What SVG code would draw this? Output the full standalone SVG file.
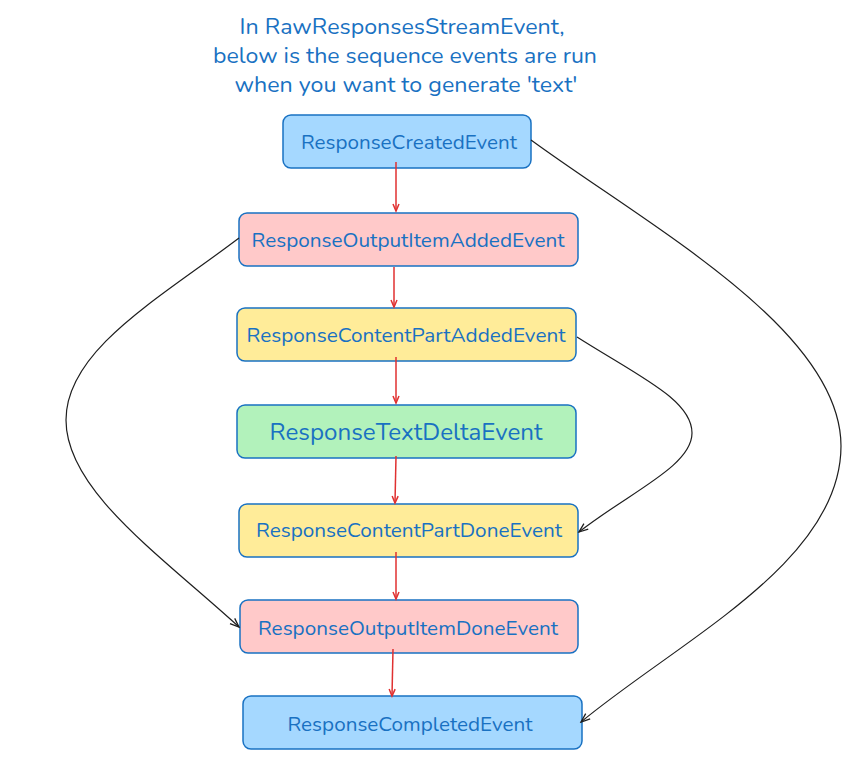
<svg xmlns="http://www.w3.org/2000/svg" width="858" height="763" viewBox="0 0 858 763">
<style>
.t{font-family:"Nunito","Open Sans","Noto Sans",sans-serif;fill:#1971c2;text-anchor:middle}
.b{stroke:#1971c2;stroke-width:1.5}
.red{stroke:#e03131;stroke-width:1.5;fill:none}
.blk{stroke:#1e1e1e;stroke-width:1.2;fill:none}
</style>
<defs>
<marker id="ar" markerWidth="10" markerHeight="10" refX="8" refY="5" orient="auto" markerUnits="userSpaceOnUse">
<path d="M1,2 L8,5 L1,8" fill="none" stroke="#e03131" stroke-width="1.5"/>
</marker>
<marker id="ab" markerWidth="12" markerHeight="12" refX="10" refY="6" orient="auto" markerUnits="userSpaceOnUse">
<path d="M1,2.5 L10,6 L1,9.5" fill="none" stroke="#1e1e1e" stroke-width="1.3"/>
</marker>
</defs>
<rect width="858" height="763" fill="#ffffff"/>
<g id="title">
<text class="t" x="402" y="34" font-size="22" textLength="325" lengthAdjust="spacingAndGlyphs">In RawResponsesStreamEvent,</text>
<text class="t" x="405" y="63" font-size="22" textLength="384" lengthAdjust="spacingAndGlyphs">below is the sequence events are run</text>
<text class="t" x="406" y="92" font-size="22" textLength="343" lengthAdjust="spacingAndGlyphs">when you want to generate 'text'</text>
</g>
<g id="n1"><rect class="b" x="283" y="115" width="248" height="53" rx="8" fill="#a5d8ff"/>
<text class="t" x="409" y="149" font-size="19" textLength="216" lengthAdjust="spacingAndGlyphs">ResponseCreatedEvent</text></g>
<g id="n2"><rect class="b" x="239" y="213" width="339" height="53" rx="8" fill="#ffc9c9"/>
<text class="t" x="408" y="247" font-size="19" textLength="313" lengthAdjust="spacingAndGlyphs">ResponseOutputItemAddedEvent</text></g>
<g id="n3"><rect class="b" x="237" y="308" width="339" height="53" rx="8" fill="#ffec99"/>
<text class="t" x="406" y="342" font-size="19" textLength="319" lengthAdjust="spacingAndGlyphs">ResponseContentPartAddedEvent</text></g>
<g id="n4"><rect class="b" x="237" y="405" width="339" height="53" rx="8" fill="#b2f2bb"/>
<text class="t" x="406" y="440" font-size="23" textLength="273" lengthAdjust="spacingAndGlyphs">ResponseTextDeltaEvent</text></g>
<g id="n5"><rect class="b" x="239" y="504" width="339" height="53" rx="8" fill="#ffec99"/>
<text class="t" x="409" y="537" font-size="19" textLength="306" lengthAdjust="spacingAndGlyphs">ResponseContentPartDoneEvent</text></g>
<g id="n6"><rect class="b" x="240" y="600" width="338" height="53" rx="8" fill="#ffc9c9"/>
<text class="t" x="408" y="635" font-size="19" textLength="300" lengthAdjust="spacingAndGlyphs">ResponseOutputItemDoneEvent</text></g>
<g id="n7"><rect class="b" x="243" y="696" width="339" height="53" rx="8" fill="#a5d8ff"/>
<text class="t" x="410" y="731" font-size="19" textLength="245" lengthAdjust="spacingAndGlyphs">ResponseCompletedEvent</text></g>
<g id="connectors">
<path class="red" d="M396,162 L396,211" marker-end="url(#ar)"/>
<path class="red" d="M394,267 L394,307" marker-end="url(#ar)"/>
<path class="red" d="M396,357 L396,403" marker-end="url(#ar)"/>
<path class="red" d="M396,456 L395,503" marker-end="url(#ar)"/>
<path class="red" d="M396,552 L396,599" marker-end="url(#ar)"/>
<path class="red" d="M393,649 L392,696" marker-end="url(#ar)"/>
<path class="blk" d="M531,140 C650,227 841,330 841,446 S680,640 581,722" marker-end="url(#ab)"/>
<path class="blk" d="M577,337 C640,377 692,400 692,433 S630,492 579,532" marker-end="url(#ab)"/>
<path class="blk" d="M239,238 C160,298 66,350 66,420 S160,555 239,627" marker-end="url(#ab)"/>
</g>
</svg>
